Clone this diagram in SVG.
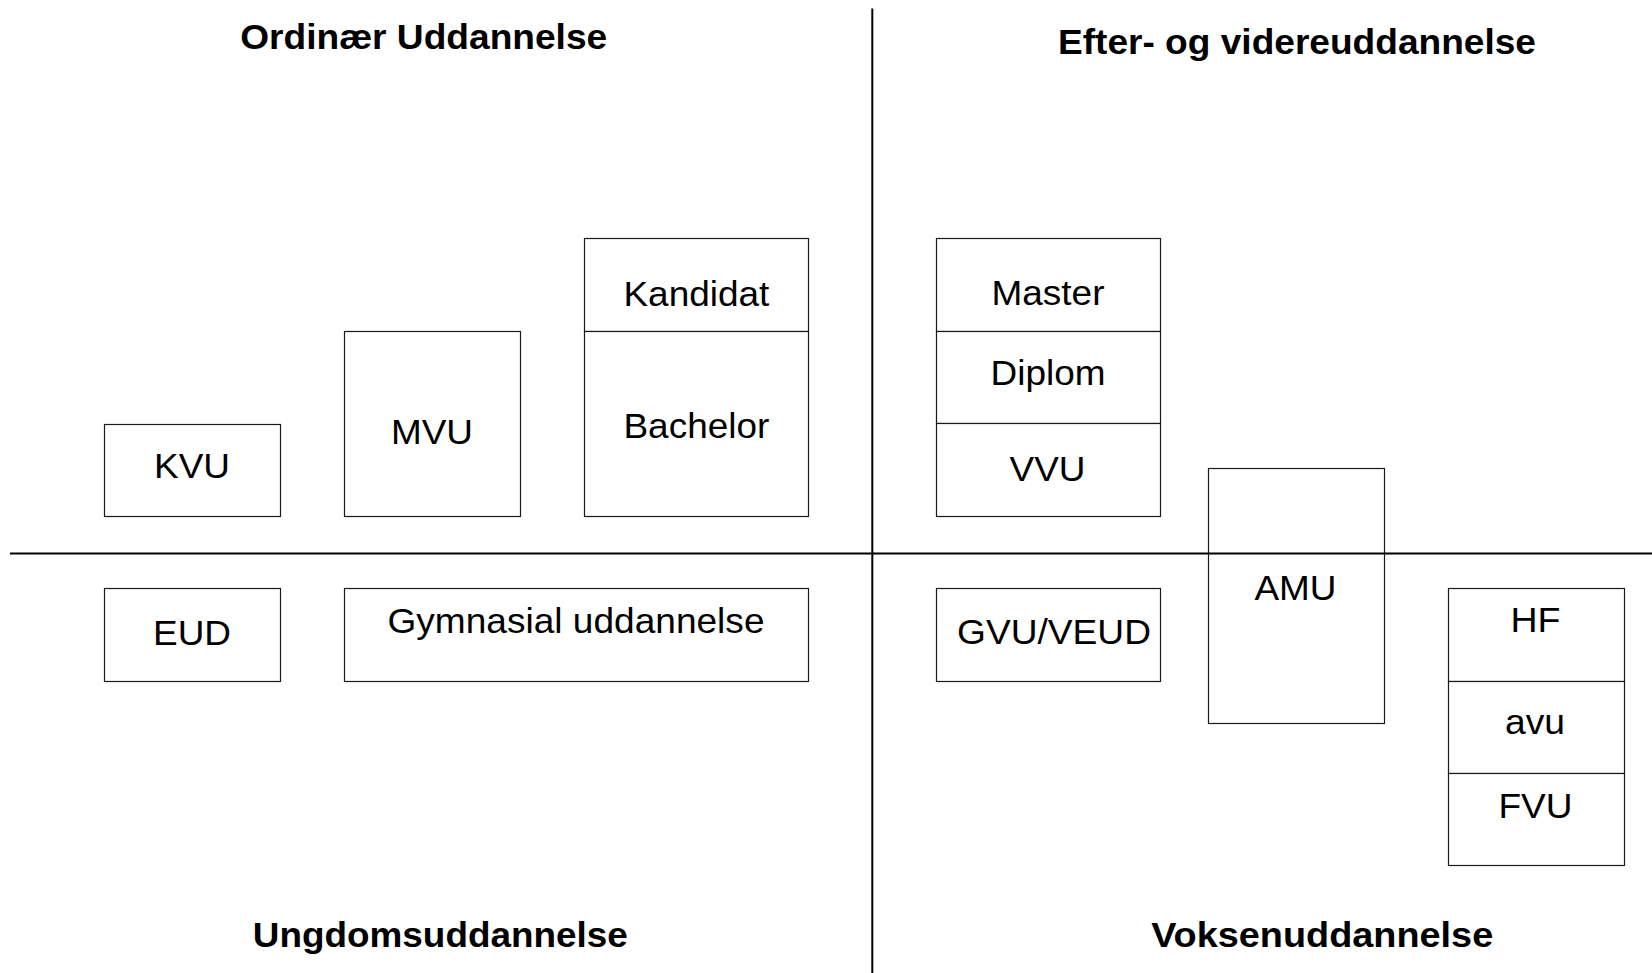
<svg xmlns="http://www.w3.org/2000/svg" width="1652" height="973" viewBox="0 0 1652 973">
<style>
.bg{fill:#fff}
.box{fill:#fff;stroke:#1a1a1a;stroke-width:1.2}
.lbl{font-family:"Liberation Sans",Arial,sans-serif;font-size:35px;fill:#000;text-anchor:middle}
.hdr{font-family:"Liberation Sans",Arial,sans-serif;font-size:35px;font-weight:bold;fill:#000;text-anchor:middle}
.axis{stroke:#000;stroke-width:2;fill:none}
</style>
<rect class="bg" x="0" y="0" width="1652" height="973"/>
<g id="headers">
<text class="hdr" x="423.7" y="48.7" textLength="367" lengthAdjust="spacingAndGlyphs">Ordinær Uddannelse</text>
<text class="hdr" x="1297" y="54.3" textLength="478" lengthAdjust="spacingAndGlyphs">Efter- og videreuddannelse</text>
<text class="hdr" x="440.3" y="946.7" textLength="375" lengthAdjust="spacingAndGlyphs">Ungdomsuddannelse</text>
<text class="hdr" x="1322.2" y="946.7" textLength="342" lengthAdjust="spacingAndGlyphs">Voksenuddannelse</text>
</g>
<g id="node-kvu"><rect class="box" x="104.5" y="424.5" width="176" height="92"/><text class="lbl" x="192" y="478" textLength="76" lengthAdjust="spacingAndGlyphs">KVU</text></g>
<g id="node-mvu"><rect class="box" x="344.5" y="331.5" width="176" height="185"/><text class="lbl" x="432" y="444" textLength="82" lengthAdjust="spacingAndGlyphs">MVU</text></g>
<g id="node-kandidat"><rect class="box" x="584.5" y="238.5" width="224" height="93"/><text class="lbl" x="696.4" y="306" textLength="146" lengthAdjust="spacingAndGlyphs">Kandidat</text></g>
<g id="node-bachelor"><rect class="box" x="584.5" y="331.5" width="224" height="185"/><text class="lbl" x="696.4" y="438.3" textLength="146" lengthAdjust="spacingAndGlyphs">Bachelor</text></g>
<g id="node-eud"><rect class="box" x="104.5" y="588.5" width="176" height="93"/><text class="lbl" x="192" y="645" textLength="78" lengthAdjust="spacingAndGlyphs">EUD</text></g>
<g id="node-gymnasial"><rect class="box" x="344.5" y="588.5" width="464" height="93"/><text class="lbl" x="576" y="633.3" textLength="377" lengthAdjust="spacingAndGlyphs">Gymnasial uddannelse</text></g>
<g id="node-master"><rect class="box" x="936.5" y="238.5" width="224" height="93"/><text class="lbl" x="1048" y="305.3" textLength="113" lengthAdjust="spacingAndGlyphs">Master</text></g>
<g id="node-diplom"><rect class="box" x="936.5" y="331.5" width="224" height="92"/><text class="lbl" x="1048" y="385.2" textLength="115" lengthAdjust="spacingAndGlyphs">Diplom</text></g>
<g id="node-vvu"><rect class="box" x="936.5" y="423.5" width="224" height="93"/><text class="lbl" x="1047.5" y="480.6" textLength="76" lengthAdjust="spacingAndGlyphs">VVU</text></g>
<g id="node-amu"><rect class="box" x="1208.5" y="468.5" width="176" height="255"/><text class="lbl" x="1295.5" y="600.4" textLength="82" lengthAdjust="spacingAndGlyphs">AMU</text></g>
<g id="node-gvu"><rect class="box" x="936.5" y="588.5" width="224" height="93"/><text class="lbl" x="1054" y="643.7" textLength="194" lengthAdjust="spacingAndGlyphs">GVU/VEUD</text></g>
<g id="node-hf"><rect class="box" x="1448.5" y="588.5" width="176" height="93"/><text class="lbl" x="1535.5" y="632" textLength="50" lengthAdjust="spacingAndGlyphs">HF</text></g>
<g id="node-avu"><rect class="box" x="1448.5" y="681.5" width="176" height="92"/><text class="lbl" x="1535" y="733.7" textLength="60" lengthAdjust="spacingAndGlyphs">avu</text></g>
<g id="node-fvu"><rect class="box" x="1448.5" y="773.5" width="176" height="92"/><text class="lbl" x="1535.5" y="818" textLength="74" lengthAdjust="spacingAndGlyphs">FVU</text></g>
<g id="connectors">
<line class="axis" x1="872.3" y1="8.5" x2="872.3" y2="973"/>
<line class="axis" x1="10" y1="553.5" x2="1652" y2="553.5"/>
</g>
</svg>
